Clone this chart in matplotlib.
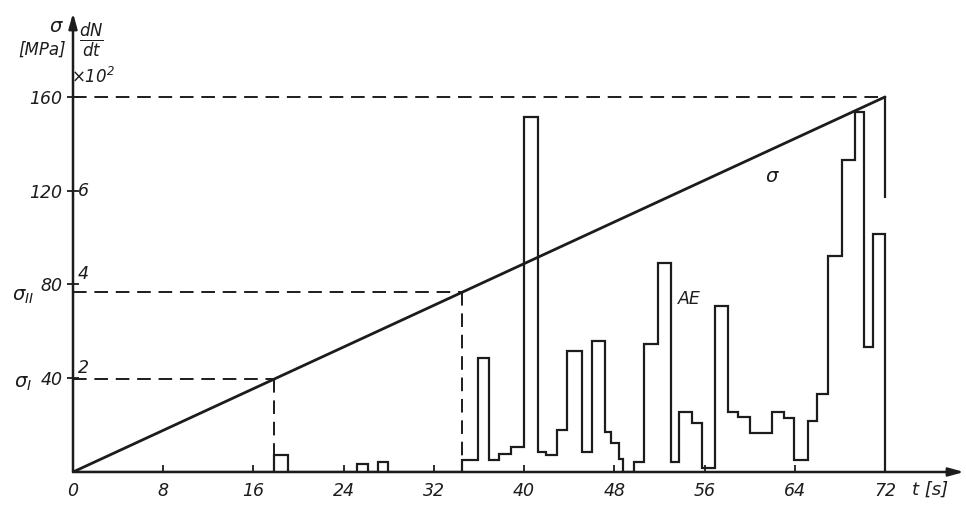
import matplotlib
matplotlib.use("Agg")
import matplotlib.pyplot as plt
import numpy as np

# ===== Data =====
# Linear load ramp: stress [MPa] against time [s]
STRESS_T = [0, 72]
STRESS_MPA = [0, 160]

# Times at which the characteristic stresses sigma_I and sigma_II are reached
SIGMA_T = [17.8, 34.5]
SIGMA_LABELS = [r"$\sigma_{I}$", r"$\sigma_{II}$"]

# End-of-test marker at t = 72 s (drawn down to this stress)
END_MARK_LOW = 117

# AE count rate dN/dt (x10^2): step edges [s] and the level held in each interval
AE_EDGES = [0, 17.8, 19.1, 25.2, 26.2, 27.0, 27.9,
            34.5, 35.9, 36.9, 37.8, 38.8, 40.0, 41.2, 41.9, 42.9, 43.8,
            45.1, 46.0, 47.2, 47.7, 48.4, 48.8, 49.7, 50.6, 51.9, 53.0,
            53.7, 54.9, 55.8, 56.9, 58.1, 59.0, 60.0, 62.0, 63.0, 63.9,
            65.2, 66.0, 66.9, 68.2, 69.3, 70.1, 70.9, 72.0]
AE_RATE = [0, 0.37, 0, 0.17, 0, 0.22, 0,
           0.26, 2.44, 0.26, 0.39, 0.54, 7.57, 0.43, 0.37, 0.90, 2.58,
           0.43, 2.79, 0.86, 0.62, 0.28, 0.0, 0.22, 2.74, 4.45, 0.22,
           1.29, 1.05, 0.09, 3.53, 1.29, 1.18, 0.84, 1.27, 1.16, 0.26,
           1.08, 1.66, 4.60, 6.65, 7.68, 2.67, 5.07]

X_TICKS = [0, 8, 16, 24, 32, 40, 48, 56, 64, 72]
Y_TICKS = [40, 80, 120, 160]
RATE_TICKS = [2, 4, 6]
MPA_PER_RATE = 20  # 40 MPa on the stress scale corresponds to 2 x10^2 counts/s

INK = "#1c1c1c"
W, H = 966, 509

plt.rcParams["font.family"] = ["DejaVu Sans"]
plt.rcParams["font.style"] = "italic"
plt.rcParams["mathtext.default"] = "it"
plt.rcParams["mathtext.fontset"] = "dejavusans"

fig = plt.figure(figsize=(W / 100, H / 100), dpi=100)
ax = fig.add_axes([73 / W, 37 / H, 891 / W, 459 / H])
ax.set_xlim(0, 79.0)
ax.set_ylim(0, 195.8)

# secondary scale for the AE rate, sharing the stress axis geometry
ax2 = ax.twinx()
ax2.set_ylim(0, 195.8 / MPA_PER_RATE)
ax2.set_axis_off()

for a in (ax,):
    for s in a.spines.values():
        s.set_visible(False)

# axes drawn as arrows
arrow = dict(arrowstyle="-|>,head_length=0.9,head_width=0.25", color=INK, lw=1.8,
             shrinkA=0, shrinkB=0)
ax.annotate("", xy=(1, 0), xytext=(0, 0), xycoords="axes fraction", arrowprops=arrow)
ax.annotate("", xy=(0, 1), xytext=(0, 0), xycoords="axes fraction", arrowprops=arrow)

ax.set_xticks(X_TICKS)
ax.set_xticklabels([str(v) for v in X_TICKS], fontsize=12.5, color=INK)
ax.set_yticks(Y_TICKS)
ax.set_yticklabels(["40", "80", "120", "160"], fontsize=12.5, color=INK)
ax.tick_params(axis="x", direction="in", length=5, width=1.3, pad=7, colors=INK)
ax.tick_params(axis="y", direction="inout", length=9, width=1.3, pad=3, colors=INK)

# stress ramp
ax.plot(STRESS_T, STRESS_MPA, color=INK, lw=2.0, solid_capstyle="round")

dash = dict(color=INK, lw=1.4, linestyle=(0, (7, 4)))
t_end, s_end = STRESS_T[-1], STRESS_MPA[-1]
ax.plot([0, t_end], [s_end, s_end], **dash)
ax.vlines(t_end, END_MARK_LOW, s_end, color=INK, lw=1.6)

for t_sig, lab in zip(SIGMA_T, SIGMA_LABELS):
    s_sig = np.interp(t_sig, STRESS_T, STRESS_MPA)
    ax.plot([0, t_sig], [s_sig, s_sig], **dash)
    ax.plot([t_sig, t_sig], [s_sig, 0], **dash)
    ax.annotate(lab, xy=(0, s_sig), xycoords=("axes fraction", "data"),
                xytext=(-50, -4), textcoords="offset pixels",
                ha="center", va="center", fontsize=14, color=INK)

# AE count rate as a step outline
ax2.stairs(AE_RATE, AE_EDGES, baseline=0, color=INK, lw=1.6)

# dN/dt scale values next to the stress ticks
for n in RATE_TICKS:
    ax2.annotate(str(n), xy=(0, n), xycoords=("axes fraction", "data"),
                 xytext=(5, 0 if n == 6 else 1), textcoords="offset pixels",
                 ha="left", va="center" if n == 6 else "bottom",
                 fontsize=12.5, color=INK)

ax.text(53.6, 74, "AE", fontsize=12.5, color=INK, ha="left", va="center")
ax.text(62, 126, r"$\sigma$", fontsize=14, color=INK, ha="center", va="center")

# axis captions
fig.text(56 / W, 1 - 26 / H, r"$\sigma$", fontsize=14, color=INK, ha="center", va="center")
fig.text(42 / W, 1 - 50 / H, "[MPa]", fontsize=12, color=INK, ha="center", va="center")
fig.text(91 / W, 1 - 40 / H, r"$\frac{dN}{dt}$", fontsize=17, color=INK,
         ha="center", va="center")
fig.text(93 / W, 1 - 77 / H, r"$\times 10^{2}$", fontsize=12, color=INK,
         ha="center", va="center")
fig.text(930 / W, 1 - 490 / H, "t [s]", fontsize=13, color=INK, ha="center", va="center")

fig.savefig("out.png", dpi=100, facecolor="white")
